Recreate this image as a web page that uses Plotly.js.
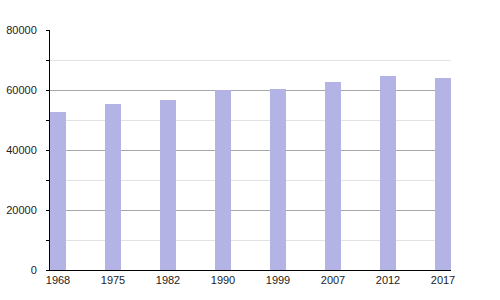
<!DOCTYPE html>
<html>
<head>
<meta charset="utf-8">
<script src="https://cdn.plot.ly/plotly-3.0.1.min.js"></script>
<style>html,body{margin:0;padding:0;background:#fff;}#chart{width:500px;height:300px;}</style>
</head>
<body>
<div id="chart"></div>
<script>
const years = ["1968", "1975", "1982", "1990", "1999", "2007", "2012", "2017"];
const population = [52700, 55300, 56700, 60000, 60400, 62800, 64700, 64100];
const yTicks = [0, 20000, 40000, 60000, 80000];

const data = [{
  type: "bar",
  x: years,
  y: population,
  width: 0.29,
  marker: {color: "#b3b3e6", line: {width: 0}},
  hoverinfo: "x+y"
}];

const layout = {
  width: 500, height: 300,
  margin: {l: 50, r: 49, t: 30, b: 30},
  paper_bgcolor: "#fff", plot_bgcolor: "#fff",
  showlegend: false,
  font: {family: "Liberation Sans, Arial, sans-serif", size: 11, color: "#222"},
  xaxis: {
    type: "category",
    range: [-0.1455, 7.1455],
    showgrid: false,
    showline: true, linecolor: "#000", linewidth: 1,
    ticks: "", tickfont: {size: 11, color: "#222"},
    fixedrange: true
  },
  yaxis: {
    range: [0, 80000],
    tickvals: yTicks,
    ticktext: yTicks.map(String),
    showgrid: true, gridcolor: "#a8a8a8", gridwidth: 1,
    zeroline: false,
    showline: true, linecolor: "#000", linewidth: 1,
    ticks: "", ticklabelstandoff: 10,
    tickfont: {size: 11, color: "#222"},
    minor: {dtick: 10000, tick0: 0, showgrid: true, gridcolor: "#e2e2e2", gridwidth: 1, ticks: "outside", ticklen: 3, tickcolor: "#000"},
    fixedrange: true
  },
  bargap: 0
};

Plotly.newPlot("chart", data, layout, {displayModeBar: false, staticPlot: true});
</script>
</body>
</html>
